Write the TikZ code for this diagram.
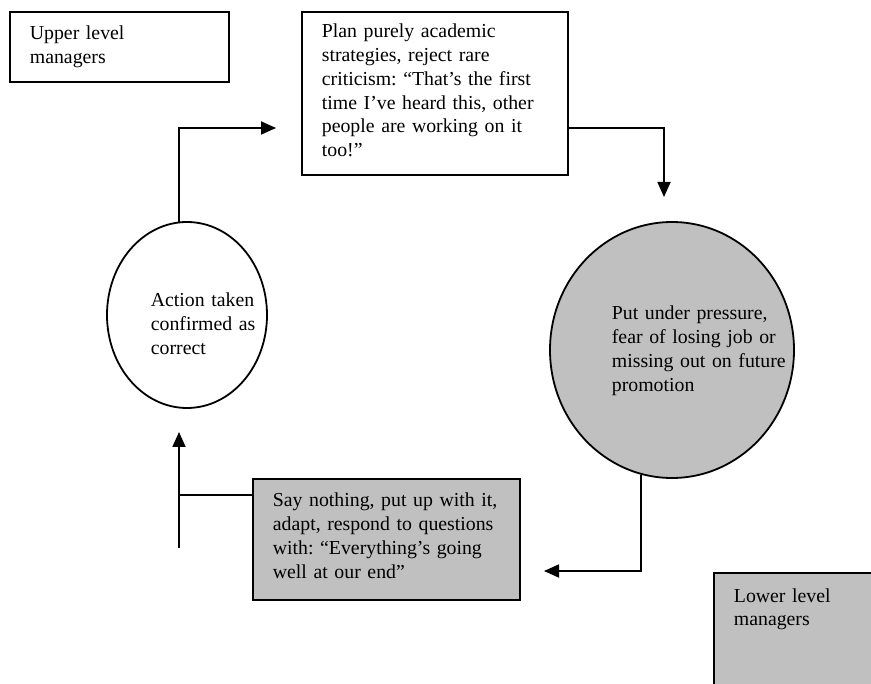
\documentclass[tikz,border=0pt]{standalone}
\usepackage{fontspec}
\setmainfont{Liberation Serif}
\usetikzlibrary{arrows.meta,shapes.geometric}
\definecolor{boxgrey}{HTML}{C0C0C0}
\begin{document}
\frenchspacing
\begin{tikzpicture}[>={Triangle[length=15pt,width=13pt]},x=1pt,y=-1pt,line width=1.8pt]
                \tikzstyle{every node}=[font=\fontsize{19.8}{23.7}\selectfont]
                \tikzstyle{box}=[draw,rectangle,anchor=north west,inner sep=0pt]
                \tikzstyle{greybox}=[box,fill=boxgrey]
                \tikzstyle{round}=[draw,ellipse,inner sep=0pt]
                \tikzstyle{words}=[anchor=base west,inner sep=0pt,align=left,text width=300pt]
                \useasboundingbox (0,0) rectangle (871,684);
                \clip (0,0) rectangle (871,684);
                % boxes and round shapes
                \node[box,minimum width=219pt,minimum height=70pt] (upper) at (9,11) {};
                \node[box,minimum width=266pt,minimum height=163pt] (plan) at (301,11) {};
                \node[round,minimum width=160pt,minimum height=186pt] (act) at (187,315) {};
                \node[round,fill=boxgrey,minimum width=244pt,minimum height=256pt] (press) at (672,350) {};
                \node[greybox,minimum width=267pt,minimum height=121pt] (quiet) at (252,478) {};
                \node[greybox,minimum width=219pt,minimum height=160pt] (lower) at (713,572) {};
                % texts
                \node[words] (uppertext) at (29,40) {Upper level\\managers};
                \node[words] (plantext) at (321,38) {Plan purely academic\\strategies, reject rare\\criticism: “That’s the first\\time I’ve heard this, other\\people are working on it\\too!”};
                \node[words] (acttext) at (150,307) {Action taken\\confirmed as\\correct};
                \node[words] (presstext) at (611,320) {Put under pressure,\\fear of losing job or\\missing out on future\\promotion};
                \node[words] (quiettext) at (272,507) {Say nothing, put up with it,\\adapt, respond to questions\\with: “Everything’s going\\well at our end”};
                \node[words] (lowertext) at (733,602) {Lower level\\managers};
                % connectors
                \coordinate (planin) at (276,128);
                \coordinate (pressin) at (664,197);
                \coordinate (quietin) at (544,571);
                \coordinate (joint) at (179,495);
                \coordinate (loopbase) at (179,548);
                \coordinate (actin) at (179,432);
                \draw[->] (act.95) |- (planin);
                \draw[->] (plan.east |- planin) -| (pressin);
                \draw[->] (press.256) |- (quietin);
                \draw (quiet.west |- joint) -- (joint);
                \draw[->] (loopbase) -- (actin);
            \end{tikzpicture}
\end{document}
